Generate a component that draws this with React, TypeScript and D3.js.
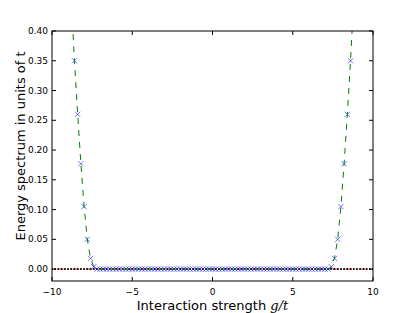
import React, { useEffect, useRef } from 'react';
import * as d3 from 'd3';

// coupling values where the spectrum was sampled (step 0.2)
const couplings = d3.range(-8.6, 8.6001, 0.2);

// excited level (left edge -> right edge)
const excited = [
  0.35, 0.26, 0.177, 0.105, 0.05, 0.018, 0.004,
  0, 0, 0, 0, 0, 0, 0, 0, 0, 0,
  0, 0, 0, 0, 0, 0, 0, 0, 0, 0,
  0, 0, 0, 0, 0, 0, 0, 0, 0, 0,
  0, 0, 0, 0, 0, 0, 0, 0, 0, 0,
  0, 0, 0, 0, 0, 0, 0, 0, 0, 0,
  0, 0, 0, 0, 0, 0, 0, 0, 0, 0,
  0, 0, 0, 0, 0, 0, 0, 0, 0, 0,
  0, 0, 0,
  0.004, 0.018, 0.05, 0.105, 0.177, 0.26, 0.35,
];

// dashed analytic curve
const curveG = [-8.8, -8.6, -8.4, -8.2, -8.0, -7.8, -7.6, -7.4, -7.3, 7.3, 7.4, 7.6, 7.8, 8.0, 8.2, 8.4, 8.6, 8.8];
const curveE = [0.455, 0.35, 0.26, 0.177, 0.105, 0.05, 0.018, 0.004, 0, 0, 0.004, 0.018, 0.05, 0.105, 0.177, 0.26, 0.35, 0.455];

// ground level (black dots)
const groundG = d3.range(-10, 10.0001, 0.2);
const groundE = 0;

const xTicks = [-10, -5, 0, 5, 10];
const yTicks = [0, 0.05, 0.1, 0.15, 0.2, 0.25, 0.3, 0.35, 0.4];

export default function App() {
  const ref = useRef<SVGSVGElement>(null);

  useEffect(() => {
    const svg = d3.select(ref.current);
    svg.selectAll('*').remove();

    const margin = { top: 31, right: 42, bottom: 32, left: 52 };
    const width = 415 - margin.left - margin.right;
    const height = 313 - margin.top - margin.bottom;

    const x = d3.scaleLinear().domain([-10, 10]).range([0, width]);
    const y = d3.scaleLinear().domain([-0.02, 0.4]).range([height, 0]);

    const font = 'DejaVu Sans, sans-serif';

    svg.append('defs').append('clipPath').attr('id', 'plot-clip')
      .append('rect').attr('width', width).attr('height', height);

    const g = svg.append('g').attr('transform', `translate(${margin.left},${margin.top})`);
    const plot = g.append('g').attr('clip-path', 'url(#plot-clip)');

    // ground state: red dotted line with black dots
    plot.append('line')
      .attr('x1', 0).attr('x2', width)
      .attr('y1', y(groundE)).attr('y2', y(groundE))
      .attr('stroke', '#ff0000').attr('stroke-width', 1.2)
      .attr('stroke-dasharray', '1,1.6');
    plot.selectAll('.dot')
      .data(groundG)
      .join('circle')
      .attr('class', 'dot')
      .attr('cx', d => x(d))
      .attr('cy', y(groundE))
      .attr('r', 1)
      .attr('fill', '#000');

    // crosses
    const cs = 2.6;
    const pts = couplings.map((c, i) => [x(c), y(excited[i])]);
    plot.selectAll('.cross')
      .data(pts)
      .join('path')
      .attr('class', 'cross')
      .attr('d', d => `M${d[0] - cs},${d[1] - cs}L${d[0] + cs},${d[1] + cs}M${d[0] - cs},${d[1] + cs}L${d[0] + cs},${d[1] - cs}`)
      .attr('stroke', '#0000ff')
      .attr('stroke-opacity', 0.55)
      .attr('stroke-width', 1)
      .attr('fill', 'none');

    // green dashed curve
    const line = d3.line<number>()
      .x((d, i) => x(curveG[i]))
      .y(d => y(d));
    plot.append('path')
      .attr('d', line(curveE))
      .attr('fill', 'none')
      .attr('stroke', '#008000')
      .attr('stroke-width', 1)
      .attr('stroke-dasharray', '6,6');

    // frame
    g.append('rect')
      .attr('width', width).attr('height', height)
      .attr('fill', 'none').attr('stroke', '#000').attr('stroke-width', 1);

    // ticks, inward on all four sides
    xTicks.forEach(t => {
      g.append('line').attr('x1', x(t)).attr('x2', x(t)).attr('y1', height).attr('y2', height - 4).attr('stroke', '#000');
      g.append('line').attr('x1', x(t)).attr('x2', x(t)).attr('y1', 0).attr('y2', 4).attr('stroke', '#000');
      g.append('text')
        .attr('x', x(t)).attr('y', height + 14)
        .attr('text-anchor', 'middle')
        .attr('font-family', font).attr('font-size', 9)
        .text(t < 0 ? '\u2212' + Math.abs(t) : String(t));
    });
    yTicks.forEach(t => {
      g.append('line').attr('x1', 0).attr('x2', 4).attr('y1', y(t)).attr('y2', y(t)).attr('stroke', '#000');
      g.append('line').attr('x1', width).attr('x2', width - 4).attr('y1', y(t)).attr('y2', y(t)).attr('stroke', '#000');
      g.append('text')
        .attr('x', -4).attr('y', y(t) + 3)
        .attr('text-anchor', 'end')
        .attr('font-family', font).attr('font-size', 9)
        .text(t.toFixed(2));
    });

    // axis labels
    const xl = g.append('text')
      .attr('x', width / 2).attr('y', height + 29)
      .attr('text-anchor', 'middle')
      .attr('font-family', font).attr('font-size', 13);
    xl.append('tspan').text('Interaction strength ');
    xl.append('tspan').attr('font-family', 'DejaVu Serif, serif').attr('font-style', 'italic').text('g/t');

    g.append('text')
      .attr('transform', `translate(-27,${height / 2 - 10}) rotate(-90)`)
      .attr('text-anchor', 'middle')
      .attr('font-family', font).attr('font-size', 13)
      .text('Energy spectrum in units of t');
  }, []);

  return (
    <svg ref={ref} width={415} height={313}
      style={{ position: 'absolute', left: 0, top: 0, background: '#fff' }} />
  );
}
